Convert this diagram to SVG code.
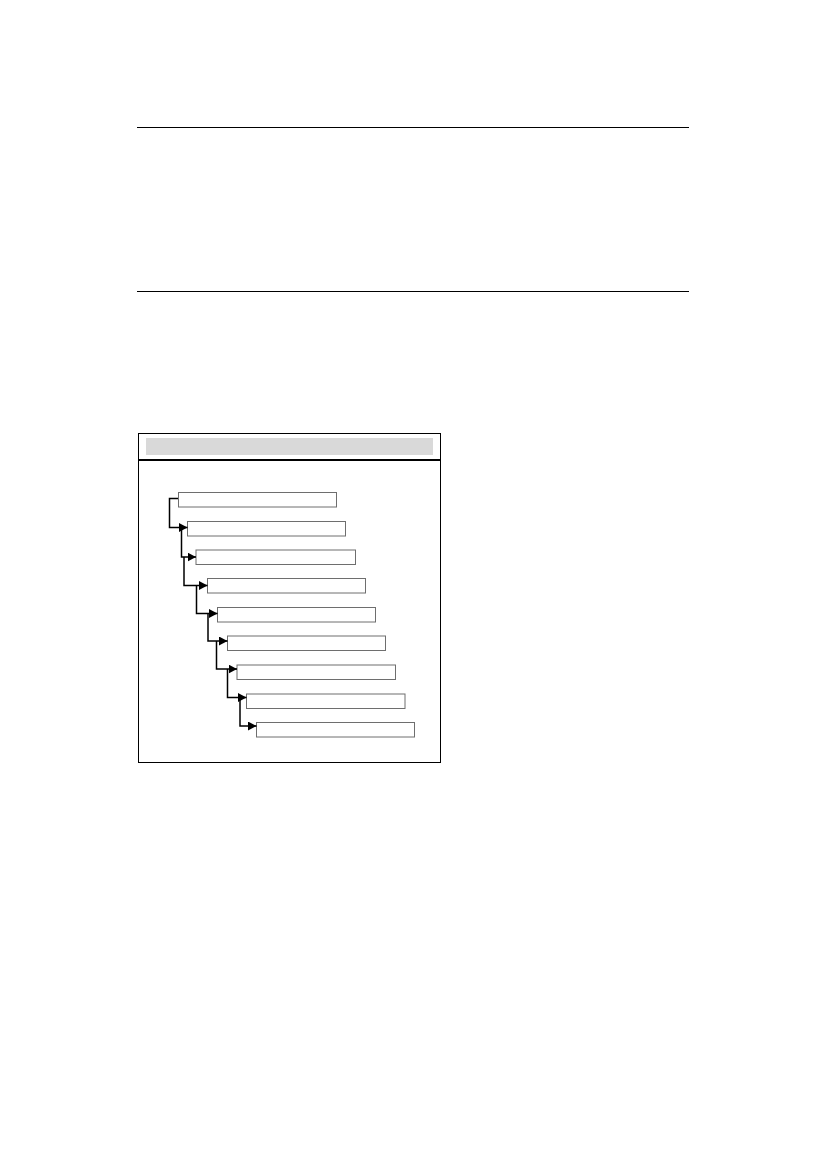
<svg xmlns="http://www.w3.org/2000/svg" width="827" height="1169" viewBox="0 0 827 1169">
<style>
.rule{stroke:#000;stroke-width:1.2;fill:none}
.frame{fill:#fff;stroke:#000;stroke-width:1}
.node{fill:#fff;stroke:#6e6e6e;stroke-width:1}
.conn{fill:none;stroke:#000;stroke-width:1.5;marker-end:url(#arr)}
</style>
<defs>
<marker id="arr" markerUnits="userSpaceOnUse" markerWidth="10" markerHeight="10" refX="8.5" refY="4.5" orient="auto">
<path d="M0,0 L8.5,4.5 L0,9 z" fill="#000"/>
</marker>
</defs>
<rect width="827" height="1169" fill="#fff"/>
<line class="rule" x1="137" y1="127.5" x2="689" y2="127.5"/>
<line class="rule" x1="137" y1="291.5" x2="689" y2="291.5"/>
<g id="panel">
<rect class="frame" x="138.5" y="433.5" width="302" height="26"/>
<rect x="146" y="438" width="287" height="17" fill="#d9d9d9"/>
<rect class="frame" x="138.5" y="459.5" width="302" height="303"/>
<line x1="138" y1="460" x2="441" y2="460" stroke="#000" stroke-width="2"/>
</g>
<g id="node1"><rect class="node" x="178.5" y="492.5" width="158" height="14.5"/></g>
<g id="node2"><rect class="node" x="187.5" y="521.5" width="158" height="14.5"/></g>
<g id="node3"><rect class="node" x="196" y="550" width="159.5" height="14.5"/></g>
<g id="node4"><rect class="node" x="207.5" y="578.5" width="158" height="14.5"/></g>
<g id="node5"><rect class="node" x="217.5" y="607.5" width="158" height="14.5"/></g>
<g id="node6"><rect class="node" x="227.5" y="636" width="158" height="14.5"/></g>
<g id="node7"><rect class="node" x="237" y="665" width="158.5" height="14.5"/></g>
<g id="node8"><rect class="node" x="246.5" y="694" width="158.5" height="14.5"/></g>
<g id="node9"><rect class="node" x="256.5" y="722.5" width="158" height="14.5"/></g>
<g id="connectors">
<path class="conn" d="M178 498.5 H169.5 V527.5 H187.5"/>
<path class="conn" d="M181.5 527.5 V557 H196"/>
<path class="conn" d="M184 557 V585.5 H207.5"/>
<path class="conn" d="M196.5 585.5 V613.5 H217.5"/>
<path class="conn" d="M208 613.5 V641 H227.5"/>
<path class="conn" d="M216.5 641 V669 H237"/>
<path class="conn" d="M227.5 669 V697.5 H246.5"/>
<path class="conn" d="M240 697.5 V726 H256.5"/>
</g>
</svg>
